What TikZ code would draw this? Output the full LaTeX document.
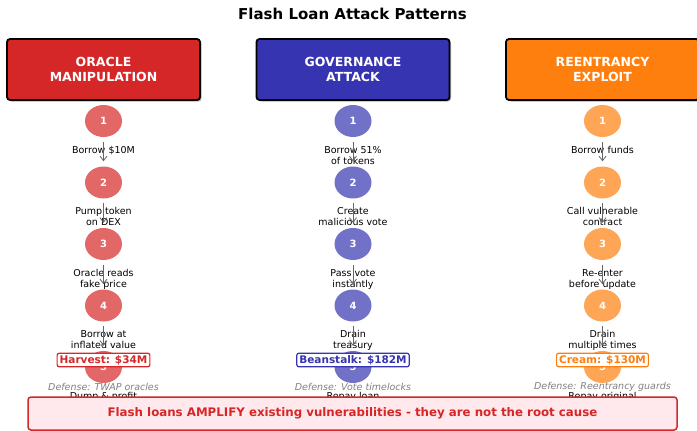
\documentclass[tikz,border=0pt]{standalone}
\usepackage{fontspec}
\setmainfont{DejaVu Sans}
\usetikzlibrary{arrows.meta,shapes.geometric}
\definecolor{cred}{HTML}{D62728}
\definecolor{cblue}{HTML}{3634B0}
\definecolor{corange}{HTML}{FF7F0E}
\definecolor{cpink}{HTML}{FFE9EC}
\definecolor{cflow}{HTML}{666666}
\definecolor{cdef}{HTML}{808080}
\tikzset{
  header/.style={draw=black, line width=1.8pt, rounded corners=3pt, minimum width=193pt, minimum height=61pt, text=white, align=center, font=\bfseries\fontsize{12.5}{14.5}\selectfont},
  hshadow/.style={fill=black!30, rounded corners=3pt},
  stepc/.style={ellipse, minimum width=37pt, minimum height=32pt, inner sep=0pt, text=white, font=\bfseries\fontsize{10}{12}\selectfont},
  steptext/.style={anchor=north, inner sep=0pt, align=center, font=\fontsize{9.5}{11}\selectfont},
  flow/.style={draw=cflow, line width=0.8pt, -{Straight Barb[length=4.5pt,width=7pt]}, shorten <=4.5pt, shorten >=5pt},
  lossbox/.style={draw=#1, text=#1, fill=white, line width=1.2pt, rounded corners=2pt, inner xsep=2.5pt, inner ysep=2pt, font=\bfseries\fontsize{10.5}{12}\selectfont},
  defense/.style={text=cdef, inner sep=0pt, font=\itshape\fontsize{9.5}{11}\selectfont},
}
\newcommand\stepcol[8]{%
  \foreach \i/\y in {1/121,2/182.5,3/244,4/305.5,5/367} {
    \node[stepc, fill=#3!70] (#1\i) at (#2,\y) {\i};
  }
  \node[steptext] (#1t1) at (#2,146) {#4};
  \node[steptext] (#1t2) at (#2,207.5) {#5};
  \node[steptext] (#1t3) at (#2,269) {#6};
  \node[steptext] (#1t4) at (#2,330.5) {#7};
  \node[steptext] (#1t5) at (#2,392) {#8};
  \foreach \i [evaluate=\i as \j using int(\i+1)] in {1,...,4} {
    \draw[flow] (#1\i) -- (#1\j);
  }
}
\begin{document}
\begin{tikzpicture}[x=1pt,y=-1pt]
\useasboundingbox (0,0) rectangle (697,431);
\node[font=\bfseries\fontsize{15}{18}\selectfont] (title) at (352.5,14) {Flash Loan Attack Patterns};
% headers
\fill[hshadow] (8.5,40.5) rectangle (201.5,101.5);
\fill[hshadow] (258,40.5) rectangle (451,101.5);
\fill[hshadow] (508,40.5) rectangle (701,101.5);
\node[header, fill=cred] (h1) at (103.5,69.5) {ORACLE\\MANIPULATION};
\node[header, fill=cblue] (h2) at (353,69.5) {GOVERNANCE\\ATTACK};
\node[header, fill=corange] (h3) at (602.5,69.5) {REENTRANCY\\EXPLOIT};
% columns
\stepcol{o}{103.5}{cred}{Borrow \$10M}{Pump token\\on DEX}{Oracle reads\\fake price}{Borrow at\\inflated value}{Dump \& profit}
\stepcol{g}{353}{cblue}{Borrow 51\%\\of tokens}{Create\\malicious vote}{Pass vote\\instantly}{Drain\\treasury}{Repay loan}
\stepcol{r}{602.5}{corange}{Borrow funds}{Call vulnerable\\contract}{Re-enter\\before update}{Drain\\multiple times}{Repay original}
% losses
\node[lossbox=cred] (l1) at (103.5,360) {Harvest: \$34M};
\node[lossbox=cblue] (l2) at (353,360) {Beanstalk: \$182M};
\node[lossbox=corange] (l3) at (602.5,360) {Cream: \$130M};
% defenses
\node[defense] (d1) at (103.5,387) {Defense: TWAP oracles};
\node[defense] (d2) at (353,387) {Defense: Vote timelocks};
\node[defense] (d3) at (602.5,387) {Defense: Reentrancy guards};
% bottom note
\node[draw=cred, fill=cpink, line width=1.5pt, rounded corners=3pt, minimum width=649pt, minimum height=33pt, text=cred, font=\bfseries\fontsize{11.8}{14}\selectfont] (note) at (352.5,413.5) {Flash loans AMPLIFY existing vulnerabilities - they are not the root cause};
\end{tikzpicture}
\end{document}
